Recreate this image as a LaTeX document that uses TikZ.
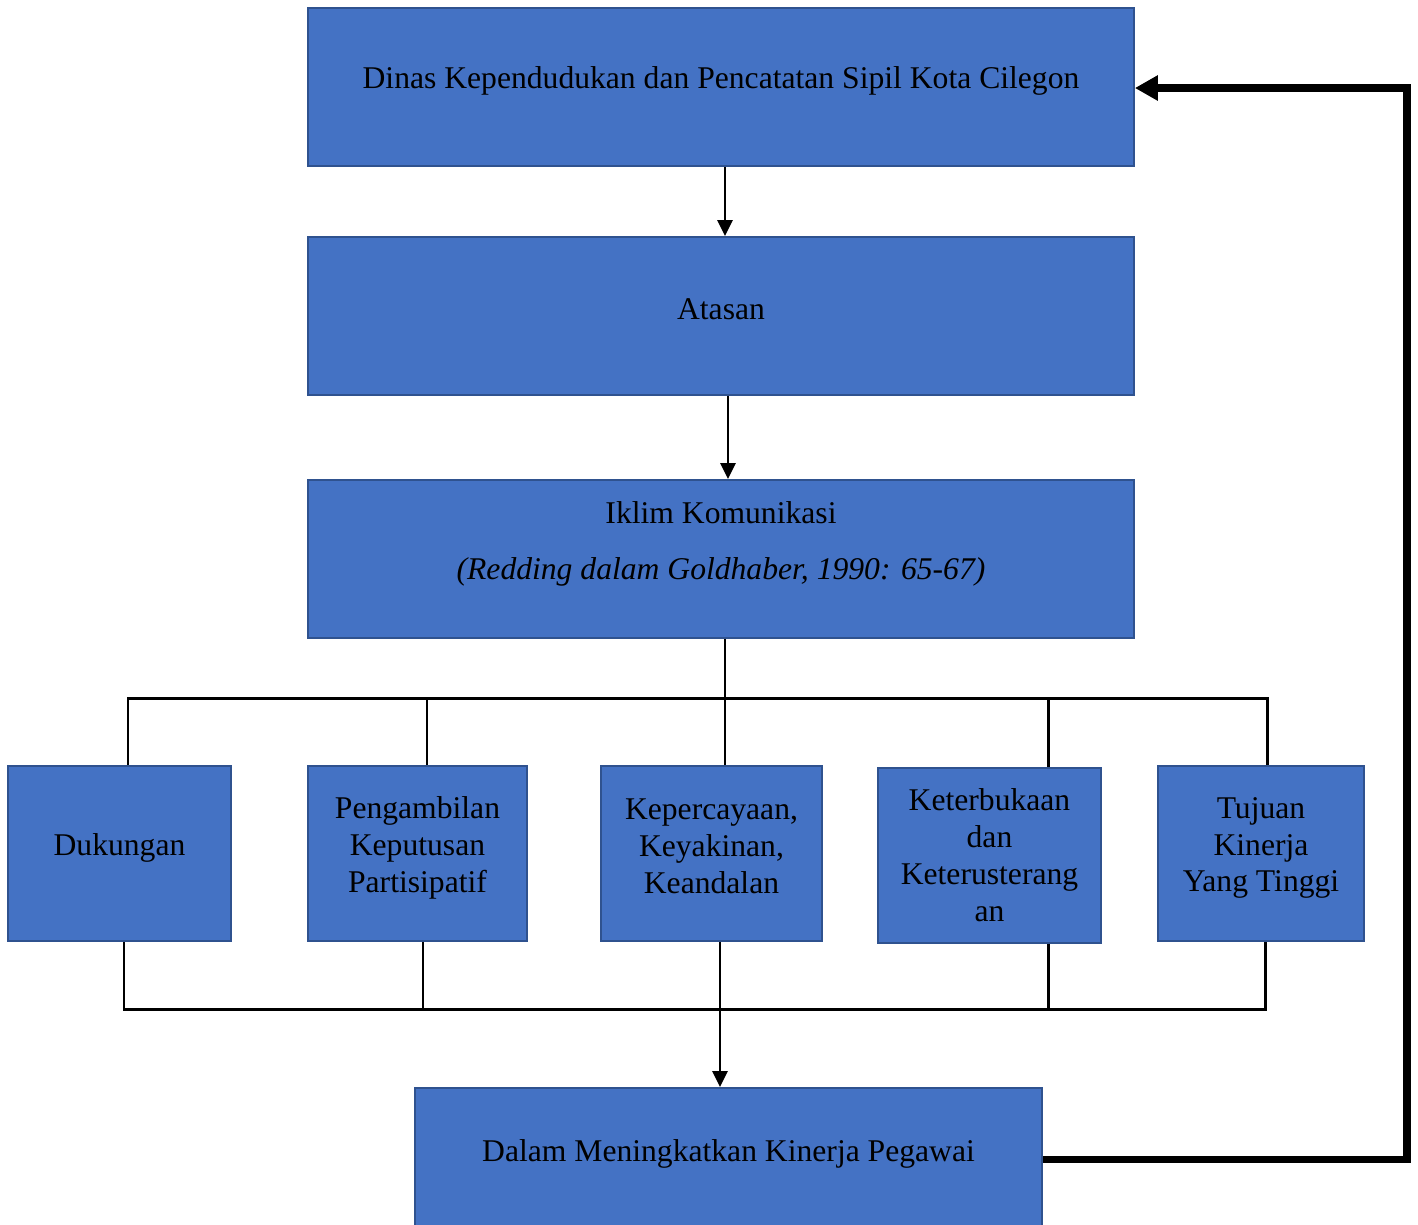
\documentclass[tikz,border=0pt]{standalone}
\usepackage{fontspec}
\setmainfont{Liberation Serif}
\usepackage{xcolor}
\usepackage{tikz}
\usetikzlibrary{arrows.meta}
\definecolor{birukotak}{HTML}{4472C4}
\definecolor{tepikotak}{HTML}{2F528F}

\begin{document}
\begin{tikzpicture}[x=0.02cm,y=-0.02cm,
  kotak/.style={draw=tepikotak,fill=birukotak,line width=1.1pt,inner sep=0pt},
  teks/.style={align=center,inner sep=0pt,font=\fontsize{18}{21}\selectfont},
  garis/.style={line width=1.7pt},
  panah/.style={line width=1.7pt,-{Triangle[length=0.32cm,width=0.3cm]}},
  balik/.style={line width=4pt,-{Triangle[length=0.46cm,width=0.48cm]}}]
      \useasboundingbox (0,0) rectangle (1418,1225);
      \clip (0,0) rectangle (1418,1225);
      \draw (721,87) node[kotak,minimum width=16.52cm,minimum height=3.16cm] (dinas) {};
      \draw (721,316) node[kotak,minimum width=16.52cm,minimum height=3.16cm] (atasan) {};
      \draw (721,559) node[kotak,minimum width=16.52cm,minimum height=3.16cm] (iklim) {};
      \draw (721,81) node[teks] (tdinas) {Dinas Kependudukan dan Pencatatan Sipil Kota Cilegon};
      \draw (721,309) node[teks] (tatasan) {Atasan};
      \draw (721,513) node[teks] (tiklim) {Iklim Komunikasi};
      \draw (721,572) node[teks] (tsumber) {\textit{(Redding dalam Goldhaber, 1990: 65-67)}};
%%%%%%%%%%%%%%%%%%%%%%%%%%%%%%%%%%%%%%%%%%%%%%%%%%%%%%%%%%%%%%%%%%%%%%%
      \draw (119.5,853.5) node[kotak,minimum width=4.46cm,minimum height=3.5cm] (dukungan) {};
      \draw (417.5,853.5) node[kotak,minimum width=4.38cm,minimum height=3.5cm] (pengambilan) {};
      \draw (711.5,853.5) node[kotak,minimum width=4.42cm,minimum height=3.5cm] (kepercayaan) {};
      \draw (989.5,855.5) node[kotak,minimum width=4.46cm,minimum height=3.5cm] (keterbukaan) {};
      \draw (1261,853.5) node[kotak,minimum width=4.12cm,minimum height=3.5cm] (tujuan) {};
      \draw (119.5,848) node[teks] (tdukungan) {Dukungan};
      \draw (417.5,848) node[teks] (tpengambilan) {Pengambilan\\Keputusan\\Partisipatif};
      \draw (711.5,846) node[teks] (tkepercayaan) {Kepercayaan,\\Keyakinan,\\Keandalan};
      \draw (989.5,855) node[teks] (tketerbukaan) {Keterbukaan\\dan\\Keterusterang\\an};
      \draw (1261,848) node[teks] (ttujuan) {Tujuan\\Kinerja\\Yang Tinggi};
%%%%%%%%%%%%%%%%%%%%%%%%%%%%%%%%%%%%%%%%%%%%%%%%%%%%%%%%%%%%%%%%%%%%%%%
      \draw (728.5,1169) node[kotak,minimum width=12.54cm,minimum height=3.24cm] (dalam) {};
      \draw (728.5,1154) node[teks] (tdalam) {Dalam Meningkatkan Kinerja Pegawai};
%%%%%%%%%%%%%%%%%%%%%%%%%%%%%%%%%%%%%%%%%%%%%%%%%%%%%%%%%%%%%%%%%%%%%%%
      \coordinate (atas1) at (128,698);
      \coordinate (atas2) at (427,698);
      \coordinate (atas3) at (725,698);
      \coordinate (atas4) at (1048,698);
      \coordinate (atas5) at (1267,698);
      \coordinate (bawah1) at (124,1009);
      \coordinate (bawah2) at (423,1009);
      \coordinate (bawah3) at (720,1009);
      \coordinate (bawah4) at (1048,1009);
      \coordinate (bawah5) at (1265,1009);
      \coordinate (kanan1) at (1407,1159);
      \coordinate (kanan2) at (1407,88);
      \draw[panah] (atas3 |- dinas.south) -- (atas3 |- atasan.north);
      \draw[panah] ([xshift=0.14cm]atasan.south) -- ([xshift=0.14cm]iklim.north);
      \draw[garis] (atas3 |- iklim.south) -- (atas3 |- kepercayaan.north);
      \draw[garis] (atas1 |- dukungan.north) -- (atas1) -- (atas5) -- (atas5 |- tujuan.north);
      \draw[garis] (atas2) -- (atas2 |- pengambilan.north);
      \draw[garis] (atas4) -- (atas4 |- keterbukaan.north);
      \draw[garis] (bawah1 |- dukungan.south) -- (bawah1) -- (bawah5) -- (bawah5 |- tujuan.south);
      \draw[garis] (bawah2 |- pengambilan.south) -- (bawah2);
      \draw[garis] (bawah4 |- keterbukaan.south) -- (bawah4);
      \draw[panah] (bawah3 |- kepercayaan.south) -- (bawah3 |- dalam.north);
      \draw[balik] (dalam.east |- kanan1) -- (kanan1) -- (kanan2) -- (dinas.east |- kanan2);
\end{tikzpicture}
\end{document}
